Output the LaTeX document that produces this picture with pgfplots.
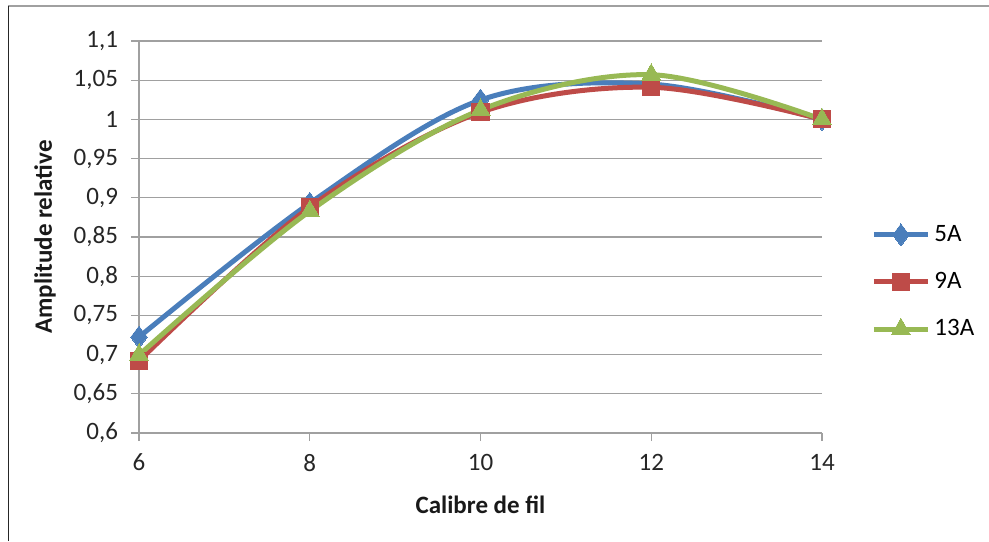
\documentclass[border=0pt]{standalone}
\usepackage{fontspec}
\setmainfont{Carlito}
\usepackage{pgfplots}
\pgfplotsset{compat=1.18}
\definecolor{cBlue}{HTML}{4A7EBB}
\definecolor{cRed}{HTML}{BE4B48}
\definecolor{cGreen}{HTML}{98B954}
\definecolor{cGrid}{HTML}{A0A0A0}
\begin{document}
\begin{tikzpicture}
\path[use as bounding box] (0,0) rectangle (494.5pt,270.5pt);
\draw[color=cGrid, line width=1.2pt] (4pt,267.6pt) -- (494.5pt,267.6pt);
\draw[color=black!85, line width=0.9pt] (4.2pt,0pt) -- (4.2pt,267.6pt);
\begin{axis}[
  at={(69.5pt,54pt)}, anchor=south west,
  scale only axis, width=341.5pt, height=196pt,
  xmin=6, xmax=14, ymin=0.6, ymax=1.1,
  xtick={6,8,10,12,14},
  ytick={0.6,0.65,...,1.1001},
  /pgf/number format/.cd, use comma, fixed, precision=2, assume math mode=true,
  /pgfplots/.cd,
  ymajorgrids, major grid style={color=cGrid, line width=0.6pt},
  axis x line*=bottom, axis y line*=left,
  axis line style={color=cGrid, line width=0.6pt, -},
  tick style={color=cGrid, line width=0.6pt},
  tick align=outside, major tick length=4pt,
  minor tick num=0,
  ticklabel style={font=\fontsize{12.5}{14}\selectfont, text=black!85},
  yticklabel style={xshift=-3pt},
  xticklabel style={yshift=-3pt},
  xlabel={\textbf{Calibre de fil}},
  ylabel={\textbf{Amplitude relative}},
  label style={font=\fontsize{12.5}{14}\selectfont, text=black!90},
  xlabel style={at={(axis description cs:0.5,0)}, anchor=center, yshift=-36pt},
  ylabel style={at={(axis description cs:0,0.5)}, anchor=center, yshift=47pt},
  legend style={at={(1.063,0.385)}, anchor=west, draw=none, fill=none,
    font=\fontsize{12.5}{14}\selectfont, row sep=10pt,
    /tikz/every even column/.append style={column sep=2pt}},
  legend cell align=left,
  legend image code/.code={
    \draw[#1] (0pt,0pt) -- (27pt,0pt);
    \draw[#1, mark repeat=1] plot coordinates {(13.5pt,0pt)};
  },
  clip=false,
]
\addplot[color=cBlue, line width=2.5pt, smooth, tension=0.55,
  mark=diamond*, mark size=5.5pt, mark options={solid, fill=cBlue, line width=0pt}]
  coordinates {(6,0.7224) (8,0.893) (10,1.0247) (12,1.045) (14,1.0)};
\addlegendentry{5A}
\addplot[color=cRed, line width=2.5pt, smooth, tension=0.55,
  mark=square*, mark size=4.3pt, mark options={solid, fill=cRed, line width=0pt}]
  coordinates {(6,0.692) (8,0.888) (10,1.009) (12,1.041) (14,1.0)};
\addlegendentry{9A}
\addplot[color=cGreen, line width=2.5pt, smooth, tension=0.55,
  mark=triangle*, mark size=5.5pt, mark options={solid, fill=cGreen, line width=0pt}]
  coordinates {(6,0.6995) (8,0.883) (10,1.012) (12,1.057) (14,1.0)};
\addlegendentry{13A}
\end{axis}
\end{tikzpicture}
\end{document}
